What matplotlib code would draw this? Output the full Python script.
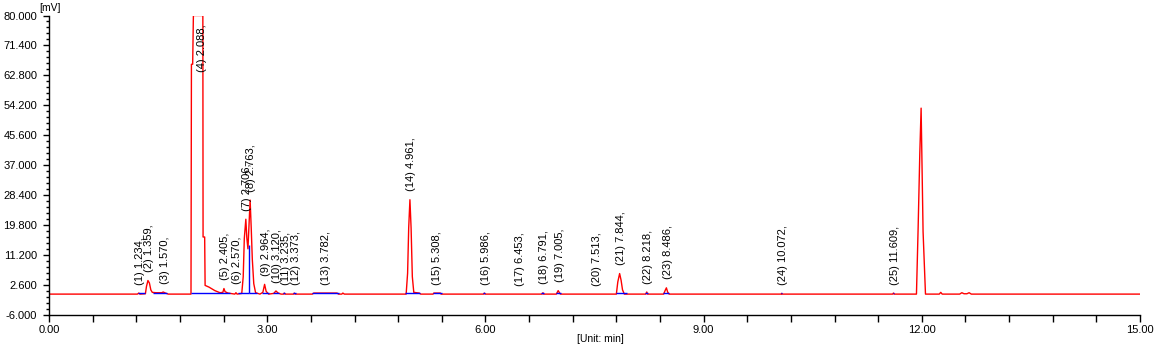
import matplotlib
matplotlib.use("Agg")
import matplotlib.pyplot as plt
import matplotlib.transforms as mtransforms
import numpy as np
from matplotlib.ticker import MultipleLocator, FuncFormatter

# red detector trace, vertices
signal_t = [0.00, 1.215, 1.234, 1.25, 1.325, 1.34, 1.36, 1.38, 1.40, 1.42, 1.47, 1.55,
            1.57, 1.60, 1.64, 1.952, 1.958, 1.975, 1.985, 2.115, 2.118, 2.140, 2.146,
            2.20, 2.28, 2.35, 2.39, 2.405, 2.42, 2.46, 2.52, 2.555, 2.570, 2.585, 2.650,
            2.670, 2.685, 2.706, 2.720, 2.735, 2.750, 2.765, 2.780, 2.795, 2.815, 2.840,
            2.90, 2.94, 2.964, 2.985, 3.02, 3.09, 3.120, 3.15, 3.19, 3.225, 3.235, 3.245,
            3.363, 3.373, 3.383, 3.62, 3.64, 3.96, 3.98, 4.025, 4.04, 4.06, 4.91, 4.93,
            4.945, 4.962, 4.978, 4.995, 5.015, 5.09, 5.11, 5.28, 5.29, 5.38, 5.39, 5.975,
            5.986, 5.995, 6.78, 6.791, 6.80, 6.975, 7.00, 7.03, 7.80, 7.82, 7.845, 7.865,
            7.885, 7.91, 8.205, 8.218, 8.23, 8.45, 8.47, 8.488, 8.505, 8.525, 10.065,
            10.072, 10.08, 11.60, 11.609, 11.62, 11.926, 11.932, 11.949, 11.972, 11.990,
            12.003, 12.017, 12.036, 12.05, 12.24, 12.26, 12.28, 12.52, 12.55, 12.58,
            12.62, 12.65, 12.68, 15.0]
signal_mv = [0.0, 0.0, 0.3, 0.0, 0.1, 2.2, 3.9, 3.2, 1.2, 0.5, 0.4, 0.4,
             0.6, 0.3, 0.0, 0.0, 66.0, 66.0, 80.0, 80.0, 16.4, 16.4, 2.5,
             2.0, 1.0, 0.4, 0.5, 1.6, 0.7, 0.3, 0.1, 0.0, 0.4, 0.0, 0.2,
             5.0, 16.0, 21.5, 16.0, 13.0, 20.0, 27.0, 19.0, 10.0, 3.0, 0.4,
             0.0, 0.5, 2.8, 0.8, 0.0, 0.2, 0.9, 0.3, 0.0, 0.0, 0.3, 0.0,
             0.0, 0.3, 0.0, 0.0, 0.3, 0.3, 0.0, 0.0, 0.3, 0.0, 0.0, 6.0,
             19.0, 27.1, 19.0, 5.0, 0.5, 0.3, 0.0, 0.0, 0.3, 0.3, 0.0, 0.0,
             0.3, 0.0, 0.0, 0.4, 0.0, 0.0, 1.0, 0.0, 0.0, 3.5, 5.9, 4.0,
             1.2, 0.0, 0.0, 0.6, 0.0, 0.0, 1.0, 1.8, 0.6, 0.0, 0.0,
             0.2, 0.0, 0.0, 0.3, 0.0, 0.0, 5.0, 19.0, 40.4, 53.4,
             36.5, 17.9, 7.8, 0.0, 0.0, 0.5, 0.0, 0.0, 0.4, 0.1,
             0.1, 0.4, 0.0, 0.0]

# blue integration baselines
base_start = [1.225, 1.43, 1.955, 2.60, 2.745, 2.93, 3.08, 3.22, 3.36, 3.62, 4.90,
              5.28, 5.97, 6.77, 6.97, 7.80, 8.20, 8.44, 10.065, 11.60]
base_end = [1.32, 1.62, 2.49, 2.745, 2.86, 3.02, 3.16, 3.25, 3.39, 3.98, 5.10,
            5.40, 6.00, 6.81, 7.04, 7.94, 8.24, 8.53, 10.08, 11.62]

# perpendicular drop between peaks 7 and 8
drop_t = 2.745
drop_mv = 14.0

peak_no = list(range(1, 26))
peak_rt = [1.234, 1.359, 1.570, 2.088, 2.405, 2.570, 2.706, 2.763, 2.964, 3.120,
           3.235, 3.373, 3.782, 4.961, 5.308, 5.986, 6.453, 6.791, 7.005, 7.513,
           7.844, 8.218, 8.486, 10.072, 11.609]

Y_MIN, Y_MAX = -6.0, 80.0
RED = "#ff0000"
BLUE = "#0000ff"

plt.rcParams["font.family"] = ["Liberation Sans", "DejaVu Sans"]
plt.rcParams["font.size"] = 8

fig = plt.figure(figsize=(11.56, 3.5), dpi=100)
ax = fig.add_axes([0.0424, 0.1, 0.9438, 0.8557])

ax.plot(signal_t, signal_mv, color=RED, lw=1.0, zorder=2)
ax.hlines(np.full(len(base_start), 0.2), base_start, base_end, color=BLUE, lw=1.0, zorder=3)
ax.vlines(drop_t, 0.2, drop_mv, color=BLUE, lw=1.0, zorder=3)

# peak labels, rotated, sitting just above the local trace maximum
st = np.array(signal_t)
sv = np.array(signal_mv)
label_tf = mtransforms.offset_copy(ax.transData, fig=fig, x=1.5, y=0, units="dots")
for n, rt in zip(peak_no, peak_rt):
    near = sv[np.abs(st - rt) < 0.025]
    top = max(near.max() if near.size else 0.0, np.interp(rt, st, sv))
    text = f"({n}) {rt:.3f},"
    if top >= Y_MAX - 0.5:
        # clipped peak: hang the label from the top of the plot
        ax.text(rt, Y_MAX - 2.6, text, rotation=90, ha="center", va="top",
                transform=label_tf, fontsize=8)
    else:
        ax.text(rt, max(top, 0.0) + 2.4, text, rotation=90, ha="center", va="bottom",
                transform=label_tf, fontsize=8)

ax.set_xlim(0, 15)
ax.set_ylim(Y_MIN, Y_MAX)
ax.xaxis.set_major_locator(MultipleLocator(3))
ax.xaxis.set_minor_locator(MultipleLocator(0.6))
ax.xaxis.set_major_formatter(FuncFormatter(lambda v, p: f"{v:.2f}"))
ax.yaxis.set_major_locator(MultipleLocator(8.6, offset=2.6))
ax.yaxis.set_minor_locator(MultipleLocator(1.72, offset=2.6))
ax.yaxis.set_major_formatter(FuncFormatter(lambda v, p: f"{v:.3f}"))
ax.tick_params(axis="x", which="both", direction="out", length=5, width=1, labelsize=8, pad=2)
ax.tick_params(axis="y", which="major", direction="out", length=4.5, width=1, labelsize=8, pad=4)
ax.tick_params(axis="y", which="minor", direction="out", length=2.5, width=1)

for side in ("top", "right"):
    ax.spines[side].set_visible(False)
for side in ("left", "bottom"):
    ax.spines[side].set_linewidth(1.0)

fig.text(0.043, 0.977, "[mV]", ha="center", va="center", fontsize=7.5)
fig.text(0.519, 0.031, "[Unit: min]", ha="center", va="center", fontsize=7.5)

fig.savefig("out.png", dpi=100)
